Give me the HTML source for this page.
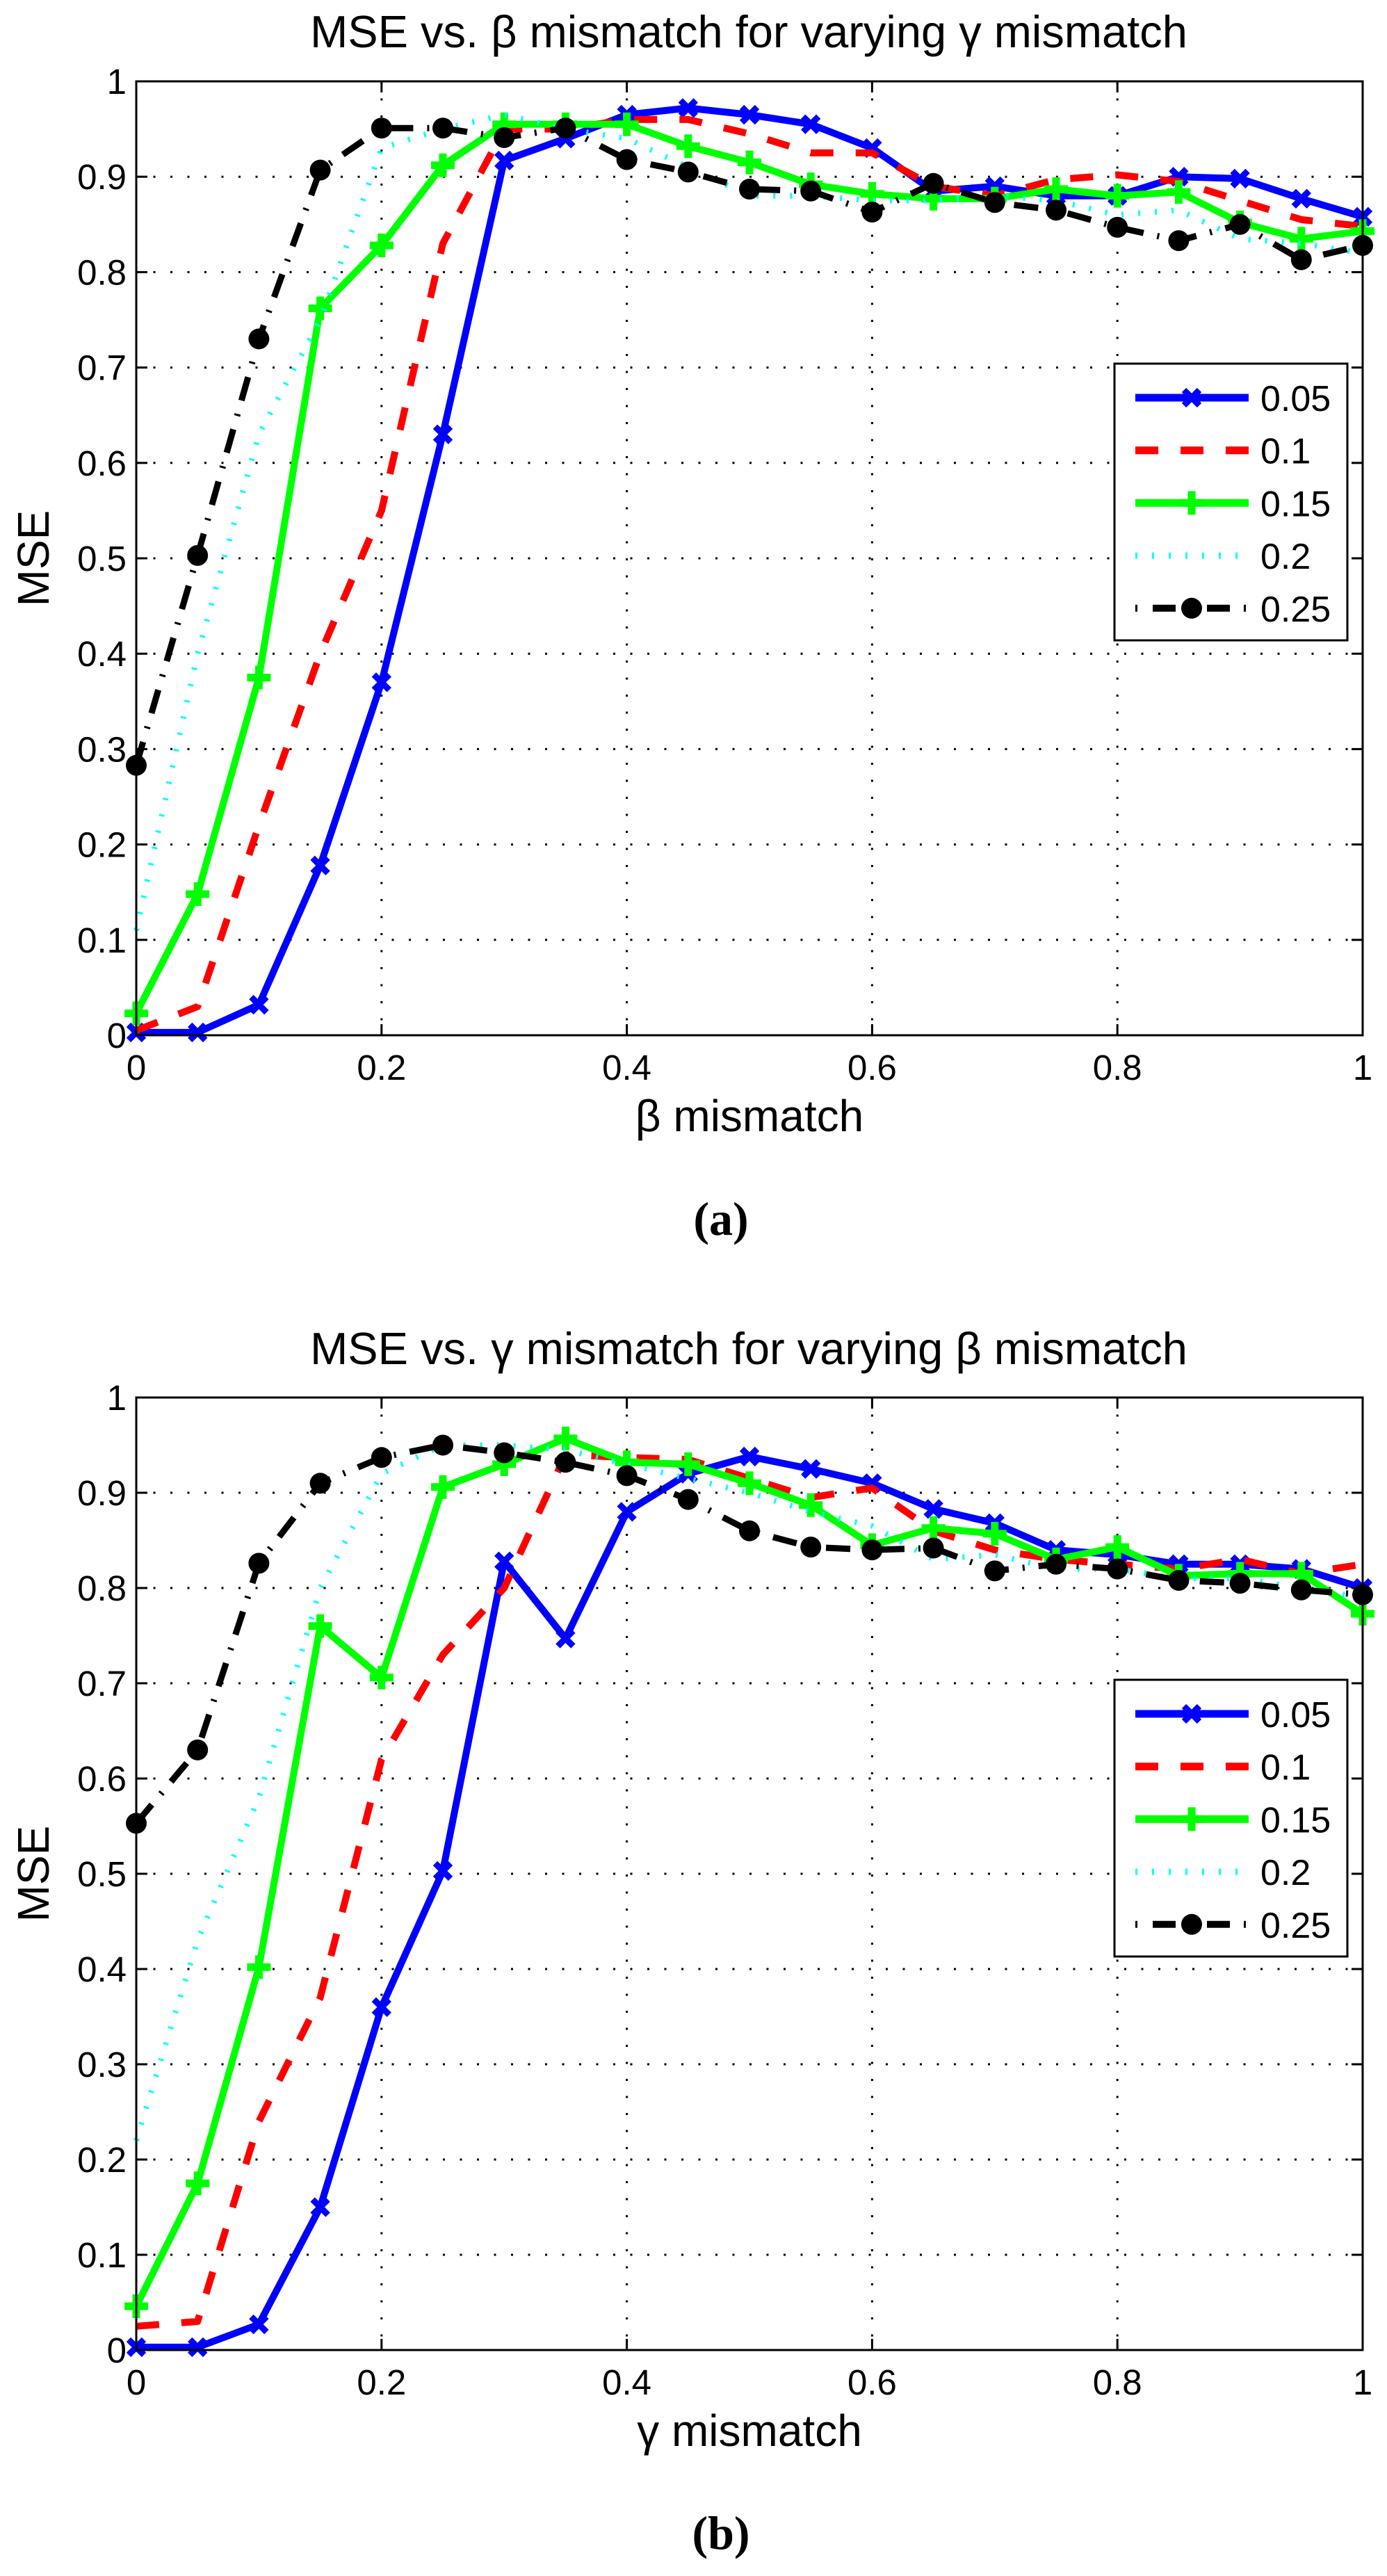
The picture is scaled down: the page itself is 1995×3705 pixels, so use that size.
<!DOCTYPE html>
<html><head><meta charset="utf-8">
<style>
html,body{margin:0;padding:0;background:#fff;}
svg{display:block;}
text{font-family:"Liberation Sans","DejaVu Sans",sans-serif;fill:#000;}
</style></head>
<body>
<svg id="fig" width="1995" height="3705" viewBox="0 0 1995 3705" xmlns="http://www.w3.org/2000/svg">
<rect width="1995" height="3705" fill="#fff"/>
</svg>
<script>
const xValues = [0,0.05,0.1,0.15,0.2,0.25,0.3,0.35,0.4,0.45,0.5,0.55,0.6,0.65,0.7,0.75,0.8,0.85,0.9,0.95,1];
const seriesLabels = ["0.05","0.1","0.15","0.2","0.25"];
const xTicks = [0,0.2,0.4,0.6,0.8,1];
const xTickLabels = ["0","0.2","0.4","0.6","0.8","1"];
const yTicks = [0,0.1,0.2,0.3,0.4,0.5,0.6,0.7,0.8,0.9,1];
const yTickLabels = ["0","0.1","0.2","0.3","0.4","0.5","0.6","0.7","0.8","0.9","1"];

const aBlue  = [0.003,0.003,0.032,0.178,0.37,0.63,0.917,0.94,0.965,0.972,0.965,0.955,0.93,0.885,0.89,0.88,0.88,0.90,0.898,0.877,0.858];
const aRed   = [0.005,0.03,0.22,0.40,0.55,0.83,0.95,0.95,0.96,0.96,0.945,0.925,0.925,0.89,0.88,0.897,0.902,0.895,0.875,0.855,0.848];
const aGreen = [0.023,0.148,0.375,0.762,0.828,0.912,0.955,0.955,0.955,0.932,0.915,0.892,0.882,0.877,0.877,0.887,0.88,0.884,0.852,0.835,0.843];
const aCyan  = [0.11,0.40,0.63,0.75,0.93,0.95,0.965,0.95,0.94,0.91,0.88,0.88,0.875,0.875,0.88,0.875,0.86,0.865,0.835,0.83,0.82];
const aBlack = [0.283,0.503,0.73,0.907,0.951,0.951,0.941,0.951,0.918,0.905,0.887,0.885,0.863,0.893,0.873,0.865,0.847,0.833,0.85,0.813,0.828];

const bBlue  = [0.003,0.003,0.027,0.15,0.36,0.503,0.828,0.747,0.88,0.92,0.938,0.925,0.91,0.883,0.868,0.84,0.835,0.825,0.825,0.82,0.80];
const bRed   = [0.025,0.03,0.24,0.37,0.62,0.73,0.80,0.94,0.937,0.935,0.915,0.895,0.905,0.86,0.84,0.83,0.825,0.82,0.83,0.815,0.825];
const bGreen = [0.046,0.175,0.402,0.76,0.706,0.906,0.93,0.957,0.932,0.93,0.91,0.887,0.845,0.863,0.857,0.83,0.843,0.813,0.815,0.815,0.773];
const bCyan  = [0.22,0.43,0.58,0.80,0.92,0.95,0.95,0.945,0.93,0.915,0.90,0.88,0.865,0.83,0.835,0.82,0.82,0.81,0.81,0.80,0.79];
const bBlack = [0.553,0.63,0.826,0.91,0.937,0.95,0.942,0.932,0.918,0.893,0.86,0.843,0.84,0.842,0.818,0.825,0.82,0.808,0.805,0.798,0.793];

const NS = "http://www.w3.org/2000/svg";
const svg = document.getElementById('fig');
function mk(tag, attrs, parent){
  const e = document.createElementNS(NS, tag);
  for (const k in attrs) e.setAttribute(k, attrs[k]);
  (parent||svg).appendChild(e);
  return e;
}
const styles = [
  {color:'#0000ff', w:10, dash:null, marker:'x'},
  {color:'#ff0000', w:10, dash:'33 32', marker:null},
  {color:'#00ff00', w:10, dash:null, marker:'+'},
  {color:'#00ffff', w:8, dash:'3 21', marker:null},
  {color:'#000000', w:9, dash:'35 20 3 20', marker:'o'}
];
function marker(g, type, cx, cy, color){
  if (type==='x'){
    const p = mk('path',{d:`M${cx-11},${cy-11}L${cx+11},${cy+11}M${cx-11},${cy+11}L${cx+11},${cy-11}`,stroke:color,'stroke-width':9,fill:'none'},g);
    
    
  } else if (type==='+'){
    const p = mk('path',{d:`M${cx-17},${cy}L${cx+17},${cy}M${cx},${cy-17}L${cx},${cy+17}`,stroke:color,'stroke-width':11,fill:'none'},g);
    
    
  } else if (type==='o'){
    const c = mk('circle',{cx:cx,cy:cy,r:15,fill:color},g);
    
    
  }
}

function chart(cfg){
  const L=196,R=1960,T=cfg.top,B=cfg.bottom;
  const xs = v => L + v*(R-L);
  const ys = v => B - v*(B-T);
  const g = mk('g',{});
  
  
  const grid = mk('g',{stroke:'#000','stroke-width':3,'stroke-dasharray':'3 21.5'},g);
  
  
  xTicks.forEach(t=>{ if(t>0&&t<1) mk('line',{x1:xs(t),x2:xs(t),y1:T,y2:B},grid); });
  yTicks.forEach(t=>{ if(t>0&&t<1) mk('line',{x1:L,x2:R,y1:ys(t),y2:ys(t)},grid); });
  const data = cfg.data;
  data.forEach((arr,i)=>{
    const st = styles[i];
    const sg = mk('g',{},g);
    
    
    const d = arr.map((v,j)=>(j?'L':'M')+xs(xValues[j]).toFixed(1)+','+ys(v).toFixed(1)).join('');
    const attrs = {d:d,fill:'none',stroke:st.color,'stroke-width':st.w,'stroke-linejoin':'round'};
    if (st.dash) attrs['stroke-dasharray']=st.dash;
    const p = mk('path',attrs,sg);
    
    
    if (st.marker) arr.forEach((v,j)=>marker(sg, st.marker, xs(xValues[j]), ys(v), st.color));
  });
  const box = mk('rect',{x:L,y:T,width:R-L,height:B-T,fill:'none',stroke:'#000','stroke-width':3},g);
  
  
  const tk = mk('g',{stroke:'#000','stroke-width':3},g);
  xTicks.forEach(t=>{ mk('line',{x1:xs(t),x2:xs(t),y1:B,y2:B-16},tk); mk('line',{x1:xs(t),x2:xs(t),y1:T,y2:T+16},tk); });
  yTicks.forEach(t=>{ mk('line',{x1:L,x2:L+16,y1:ys(t),y2:ys(t)},tk); mk('line',{x1:R,x2:R-16,y1:ys(t),y2:ys(t)},tk); });
  xTicks.forEach((t,i)=>{
    const e = mk('text',{x:xs(t),y:B+64,'font-size':51,'text-anchor':'middle'},g);
    e.textContent = xTickLabels[i];
    
    
  });
  yTicks.forEach((t,i)=>{
    const e = mk('text',{x:182,y:ys(t)+18,'font-size':51,'text-anchor':'end'},g);
    e.textContent = yTickLabels[i];
    
    
  });
  const ti = mk('text',{x:1077,y:cfg.titleY,'font-size':65,'text-anchor':'middle'},g);
  ti.textContent = cfg.title;
  
  
  const xl = mk('text',{x:1078,y:B+138,'font-size':64,'text-anchor':'middle'},g);
  xl.textContent = cfg.xlabel;
  
  
  const yl = mk('text',{x:0,y:0,'font-size':64,'text-anchor':'middle',transform:`translate(70,${(T+B)/2}) rotate(-90)`},g);
  yl.textContent = 'MSE';
  
  
  const cap = mk('text',{x:1037,y:cfg.capY,'text-anchor':'middle',style:'font-family:"Liberation Serif","DejaVu Serif",serif;font-weight:bold;font-size:68px;'},g);
  cap.textContent = cfg.caption;
  
  
  const lg = mk('g',{},g);
  
  
  mk('rect',{x:1603,y:cfg.legTop,width:335,height:398,fill:'#fff',stroke:'#000','stroke-width':3},lg);
  seriesLabels.forEach((lab,i)=>{
    const st = styles[i];
    const y = cfg.legTop + 49 + i*75.7;
    const eg = mk('g',{},lg);
    
    
    const a = {x1:1633,x2:1796,y1:y,y2:y,stroke:st.color,'stroke-width':st.w+1};
    if (st.dash) a['stroke-dasharray']= i===4 ? '3 22 33 20' : st.dash;
    mk('line',a,eg);
    if (st.marker) marker(eg, st.marker, 1714, y, st.color);
    const t = mk('text',{x:1813,y:y+19,'font-size':52},eg);
    t.textContent = lab;
  });
}

chart({name:'chart-a', top:117, bottom:1489, titleY:68, capY:1776,
  title:'MSE vs. β mismatch for varying γ mismatch', xlabel:'β mismatch', caption:'(a)',
  legTop:523, data:[aBlue,aRed,aGreen,aCyan,aBlack]});
chart({name:'chart-b', top:2010, bottom:3380, titleY:1962, capY:3666,
  title:'MSE vs. γ mismatch for varying β mismatch', xlabel:'γ mismatch', caption:'(b)',
  legTop:2416, data:[bBlue,bRed,bGreen,bCyan,bBlack]});
</script>
</body></html>
